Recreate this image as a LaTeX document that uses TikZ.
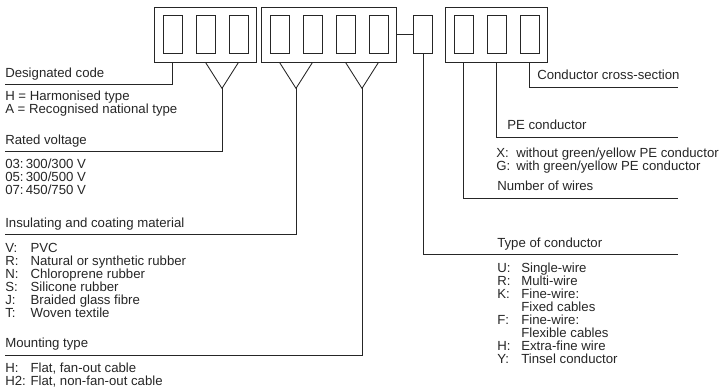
\documentclass[tikz,border=0pt]{standalone}
\usepackage{fontspec}
\setmainfont{Liberation Sans}
\usetikzlibrary{positioning,calc,fit}
\definecolor{Ink}{HTML}{262626}
\tikzset{
 cell/.style={draw=Ink, line width=0.65pt, minimum width=14.25pt, minimum height=28.5pt, inner sep=0pt},
 group/.style={draw=Ink, line width=0.65pt, inner sep=6pt},
 lbl/.style={anchor=base west, inner sep=0pt, text=Ink, font=\fontsize{9.9}{9.75}\selectfont},
 lead/.style={draw=Ink, line width=0.65pt}
}

\begin{document}
\begin{tikzpicture}[x=0.75pt,y=-0.75pt]
\useasboundingbox (0,0) rectangle (721,386);
\foreach \n/\x in {c1/172.5,c2/205.5,c3/238.5,c4/279.5,c5/312.5,c6/345.5,c7/378.5,c8/423,c9/463.5,c10/496.5,c11/529.5}
  \node[cell] (\n) at (\x,34.5) {};
\node[group, fit=(c1)(c3)] (g1) {};
\node[group, fit=(c4)(c7)] (g2) {};
\node[group, fit=(c9)(c11)] (g3) {};
\draw[lead] (g2.east) -- (c8.west);
\foreach \v/\p/\q/\g in {v1/c2/c3/g1,v2/c4/c5/g2,v3/c6/c7/g2}{
  \coordinate (\v) at ($(\p|-\g.south)!0.5!(\q|-\g.south)+(0,26)$);
  \draw[lead] (\p|-\g.south) -- (\v) -- (\q|-\g.south);
}
\coordinate (dcend) at (5,84);
\coordinate (rvend) at (5,151);
\coordinate (icend) at (5,234);
\coordinate (mtend) at (5,355);
\coordinate (csend) at (678,87);
\coordinate (peend) at (678,137);
\coordinate (nwend) at (678,198);
\coordinate (tcend) at (678,254);
\draw[lead] (c1|-g1.south) |- (dcend);
\draw[lead] (v1) |- (rvend);
\draw[lead] (v2) |- (icend);
\draw[lead] (v3) |- (mtend);
\draw[lead] (c8.south) |- (tcend);
\draw[lead] (c9|-g3.south) |- (nwend);
\draw[lead] (c10|-g3.south) |- (peend);
\draw[lead] (c11|-g3.south) |- (csend);
\node[lbl] (dcode) at (5,77) {Designated code};
\node[lbl] (dc1) at (5,100) {H = Harmonised type};
\node[lbl] (dc2) at (5,113) {A = Recognised national type};
\node[lbl] (rvolt) at (5,144) {Rated voltage};
\node[lbl] (rv1) at (5,168) {03:\,300/300 V};
\node[lbl] (rv2) at (5,181) {05:\,300/500 V};
\node[lbl] (rv3) at (5,194) {07:\,450/750 V};
\node[lbl] (icoat) at (5,227) {Insulating and coating material};
\foreach \n/\y/\k/\t in {ic1/252/V:/PVC,ic2/265/R:/Natural or synthetic rubber,ic3/278/N:/Chloroprene rubber,ic4/291/S:/Silicone rubber,ic5/304/J:/Braided glass fibre,ic6/317/T:/Woven textile,mt1/372/H:/{Flat, fan-out cable},mt2/385/H2:/{Flat, non-fan-out cable}}
  \node[lbl] (\n) at (5,\y) {\makebox[19pt][l]{\k}\t};
\node[lbl] (mtype) at (5,347) {Mounting type};
\node[lbl] (csect) at (537,79) {Conductor cross-section};
\node[lbl] (pecon) at (507,129) {PE conductor};
\node[lbl] (pe1) at (496,157) {\makebox[15pt][l]{X:}without green/yellow PE conductor};
\node[lbl] (pe2) at (496,170) {\makebox[15pt][l]{G:}with green/yellow PE conductor};
\node[lbl] (nwire) at (497,190) {Number of wires};
\node[lbl] (tcond) at (497,247) {Type of conductor};
\foreach \n/\y/\k/\t in {tc1/272/U:/Single-wire,tc2/285/R:/Multi-wire,tc3/298/K:/Fine-wire:,tc4/311//Fixed cables,tc5/324/F:/Fine-wire:,tc6/337//Flexible cables,tc7/350/H:/Extra-fine wire,tc8/363/Y:/Tinsel conductor}
  \node[lbl] (\n) at (497,\y) {\makebox[18pt][l]{\k}\t};
\end{tikzpicture}
\end{document}
